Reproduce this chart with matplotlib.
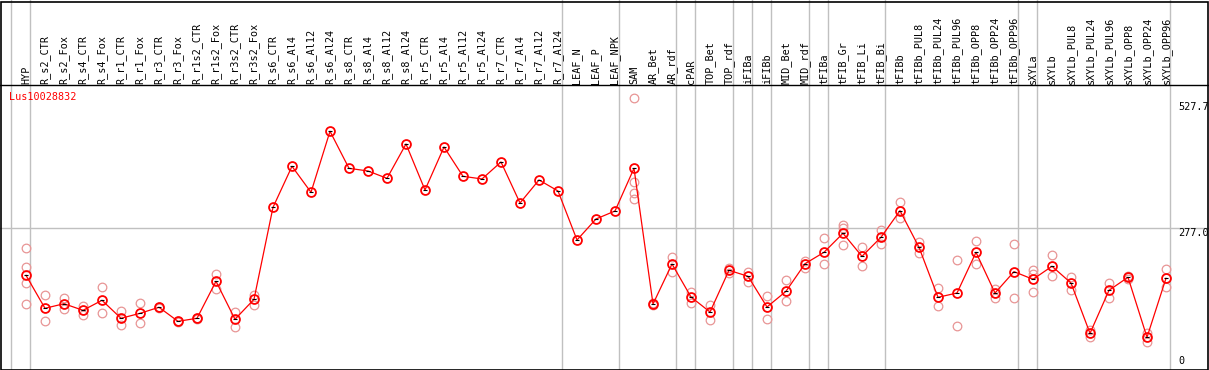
"""
Expression profile for Lus10028832 across tissues / treatments.
Mean line with replicate circles, labels rotated along the top strip.
"""

import matplotlib.pyplot as plt
from matplotlib.patches import Rectangle
from matplotlib.transforms import blended_transform_factory

GENE = "Lus10028832"

LABELS = [
    "HYP", "R_s2_CTR", "R_s2_Fox", "R_s4_CTR", "R_s4_Fox", "R_r1_CTR", "R_r1_Fox",
    "R_r3_CTR", "R_r3_Fox", "R_r1s2_CTR", "R_r1s2_Fox", "R_r3s2_CTR", "R_r3s2_Fox",
    "R_s6_CTR", "R_s6_Al4", "R_s6_Al12", "R_s6_Al24",
    "R_s8_CTR", "R_s8_Al4", "R_s8_Al12", "R_s8_Al24",
    "R_r5_CTR", "R_r5_Al4", "R_r5_Al12", "R_r5_Al24",
    "R_r7_CTR", "R_r7_Al4", "R_r7_Al12", "R_r7_Al24",
    "LEAF_N", "LEAF_P", "LEAF_NPK", "SAM", "AR_Bet", "AR_rdf", "cPAR",
    "TOP_Bet", "TOP_rdf", "iFIBa", "iFIBb", "MID_Bet", "MID_rdf", "tFIBa",
    "tFIB_Gr", "tFIB_Li", "tFIB_Bi", "tFIBb",
    "tFIBb_PUL8", "tFIBb_PUL24", "tFIBb_PUL96", "tFIBb_OPP8", "tFIBb_OPP24", "tFIBb_OPP96",
    "sXYLa", "sXYLb",
    "sXYLb_PUL8", "sXYLb_PUL24", "sXYLb_PUL96", "sXYLb_OPP8", "sXYLb_OPP24", "sXYLb_OPP96",
]

MEANS = [
    182.8, 117.2, 126.3, 113.2, 133.1, 97.3, 107.2, 119.2, 91.3, 97.3, 170.9, 95.3, 135.1,
    318.1, 399.7, 348.0, 469.4, 395.7, 390.4, 375.8, 444.1, 352.6, 438.1, 379.8, 374.5,
    408.3, 326.7, 372.5, 350.6, 253.1, 294.9, 310.8,
    395.7, 125.7, 205.3, 139.7, 109.8, 192.8, 180.9, 119.8, 151.0, 205.9, 228.6,
    266.4, 220.6, 258.5, 311.4,
    238.6, 139.1, 147.6, 228.6, 147.6, 190.1,
    174.9, 200.8, 167.5, 67.4, 153.0, 178.9, 59.5, 176.9,
]

# replicate values per sample (empty = no replicates shown)
REPS = [
    [236.6, 198.8, 168.1, 125.7], [143.0, 91.3], [138.3, 116.4], [122.4, 103.9],
    [159.0, 107.2], [111.2, 84.6], [127.1, 87.3], [120.4, 118.0], [90.0, 92.5],
    [98.3, 96.3], [184.8, 155.0], [109.2, 79.4], [144.3, 124.4],
    [], [], [], [], [], [], [], [], [], [], [], [], [], [], [], [], [], [], [],
    [535.0, 369.1, 347.2, 334.0], [127.0, 124.5], [218.7, 188.8], [149.6, 127.1],
    [123.8, 93.9], [198.0, 188.1], [190.1, 169.5], [141.0, 95.3], [172.9, 131.1],
    [211.3, 198.0], [256.5, 204.7], [282.9, 277.6, 243.1], [238.6, 202.0],
    [273.0, 245.7], [328.0, 297.5],
    [249.7, 227.8], [157.0, 121.2], [212.7, 81.4], [250.5, 205.3], [155.6, 138.3],
    [245.1, 137.1],
    [193.4, 185.4, 149.6], [222.6, 181.5], [179.5, 153.6], [74.0, 60.7],
    [167.5, 138.3], [182.1, 175.7], [68.6, 49.5], [195.4, 159.0],
]

# index of the last sample in each group -> grey separator after it
GROUP_ENDS = [-1, 0, 28, 31, 34, 35, 37, 38, 39, 41, 42, 45, 52, 53, 60]

Y_TICKS = [527.7, 277.0, 0]


def main() -> None:
    W, H = 1209, 370
    fig = plt.figure(figsize=(W / 100, H / 100), dpi=100)
    ax = fig.add_axes([0, 0, 1, 1])
    ax.set_axis_off()

    # pixel geometry of the original: x = 26 + 19*i, value 0 at y=367.2, 0.5026 px/unit
    x0, dx = 26.0, 19.0
    y0, sy = 367.2, 0.5026
    ax.set_xlim(-x0 / dx, (W - x0) / dx)
    ax.set_ylim((y0 - H) / sy, y0 / sy)

    def yval(py):
        return (y0 - py) / sy

    grey = "#c0c0c0"
    for g in GROUP_ENDS:
        ax.axvline(g + 4 / 19, color=grey, lw=1.0, zorder=1)
    ax.axhline(277.0, color=grey, lw=1.0, zorder=1)
    ax.axhline(yval(85), color="black", lw=1.0, zorder=2)

    xs = list(range(len(LABELS)))
    for i, reps in enumerate(REPS):
        if reps:
            ax.plot([i] * len(reps), reps, "o", ms=6.2, mfc="none",
                    mec="#e89595", mew=0.9, zorder=3)

    ax.plot(xs, MEANS, "-", color="red", lw=0.9, zorder=4)
    ax.plot(xs, MEANS, "o", ms=6.4, mfc="none", mec="red", mew=1.3, zorder=5)
    ax.plot(xs, MEANS, "_", ms=2.5, color="black", mew=0.8, zorder=6)

    mono = "DejaVu Sans Mono"
    for i, lab in enumerate(LABELS):
        ax.text(i, yval(83.5), lab, rotation=90, ha="center", va="bottom",
                fontsize=7.3, family=mono, color="black")

    ax.text(-17 / dx, yval(97.5), GENE, ha="left", va="center",
            fontsize=7.3, family=mono, color="red")

    x_lab = (1178 - x0) / dx
    for v in Y_TICKS:
        if v == 0:
            ax.text(x_lab, yval(366), "0", ha="left", va="bottom",
                    fontsize=7.3, family=mono)
        else:
            ax.text(x_lab, v, f"{v:.1f}", ha="left", va="top",
                    fontsize=7.3, family=mono)

    fig.patches.append(Rectangle((0.5 / W, 0.5 / H), 1 - 1.5 / W, 1 - 2 / H,
                                 transform=fig.transFigure, fill=False,
                                 edgecolor="black", lw=1.2))

    fig.savefig("out.png", dpi=100)
    plt.close(fig)


if __name__ == "__main__":
    main()
